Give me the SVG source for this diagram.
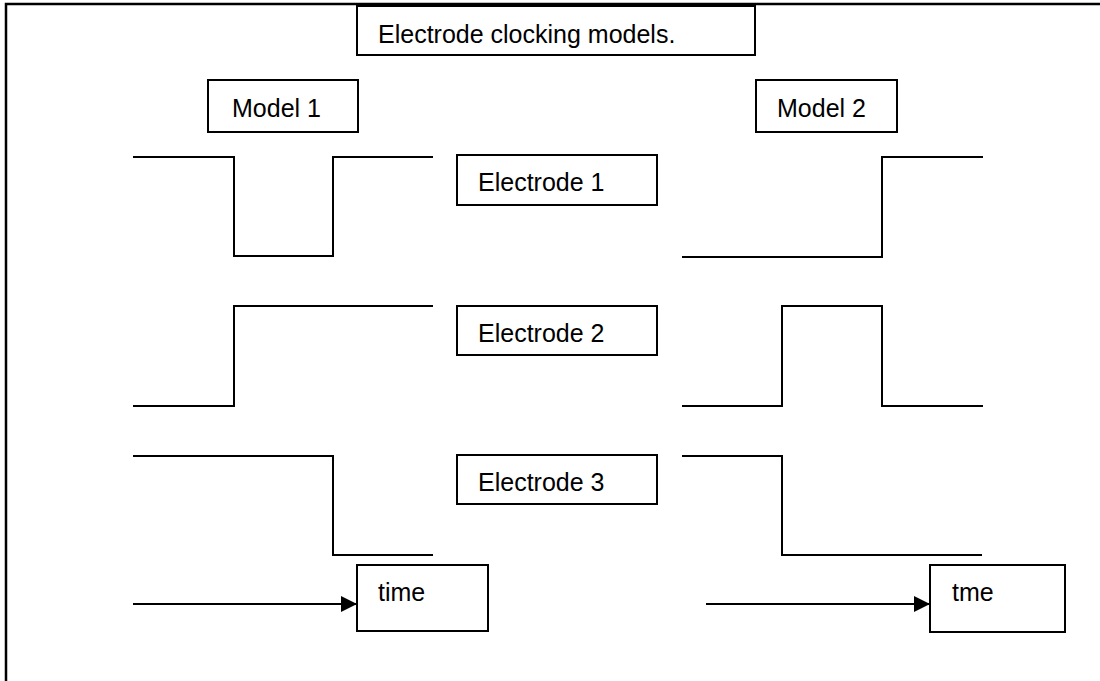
<svg xmlns="http://www.w3.org/2000/svg" width="1100" height="681" viewBox="0 0 1100 681">
  <defs>
    <style>
      .box { fill: #fff; stroke: #000; stroke-width: 2; }
      .lbl { font-family: "Liberation Sans", Arial, sans-serif; font-size: 25px; fill: #000; }
      .wave { fill: none; stroke: #000; stroke-width: 2; }
      .border { fill: none; stroke: #000; stroke-width: 2.5; }
    </style>
    <marker id="arrow" markerWidth="17" markerHeight="17" refX="16" refY="8" orient="auto" markerUnits="userSpaceOnUse">
      <path d="M0,0 L16,8 L0,16 Z" fill="#000"/>
    </marker>
  </defs>
  <rect width="1100" height="681" fill="#fff"/>
  <g id="frame">
    <path class="border" d="M6,681 L6,4 L1100,4"/>
  </g>

  <g id="title">
    <rect class="box" x="357" y="6" width="398" height="49"/>
    <text class="lbl" x="378" y="43">Electrode clocking models.</text>
  </g>
  <g id="model1">
    <rect class="box" x="208" y="80" width="150" height="52"/>
    <text class="lbl" x="232" y="117">Model 1</text>
  </g>
  <g id="model2">
    <rect class="box" x="756" y="80" width="141" height="52"/>
    <text class="lbl" x="777" y="117">Model 2</text>
  </g>
  <g id="electrode1">
    <rect class="box" x="457" y="155" width="200" height="50"/>
    <text class="lbl" x="478" y="191">Electrode 1</text>
  </g>
  <g id="electrode2">
    <rect class="box" x="457" y="306" width="200" height="49"/>
    <text class="lbl" x="478" y="342">Electrode 2</text>
  </g>
  <g id="electrode3">
    <rect class="box" x="457" y="455" width="200" height="49"/>
    <text class="lbl" x="478" y="491">Electrode 3</text>
  </g>
  <g id="time1">
    <rect class="box" x="357" y="565" width="131" height="66"/>
    <text class="lbl" x="378" y="601">time</text>
  </g>
  <g id="time2">
    <rect class="box" x="930" y="565" width="135" height="67"/>
    <text class="lbl" x="952" y="601">tme</text>
  </g>

  <g id="connectors">
    <path class="wave" d="M133,157 L234,157 L234,256 L333,256 L333,157 L433,157"/>
    <path class="wave" d="M133,406 L234,406 L234,306 L433,306"/>
    <path class="wave" d="M133,456 L333,456 L333,555 L433,555"/>
    <path class="wave" d="M682,257 L882,257 L882,157 L983,157"/>
    <path class="wave" d="M682,406 L782,406 L782,306 L882,306 L882,406 L983,406"/>
    <path class="wave" d="M682,456 L782,456 L782,555 L982,555"/>
    <line class="wave" x1="133" y1="604" x2="357" y2="604" marker-end="url(#arrow)"/>
    <line class="wave" x1="706" y1="604" x2="930" y2="604" marker-end="url(#arrow)"/>
  </g>
</svg>
